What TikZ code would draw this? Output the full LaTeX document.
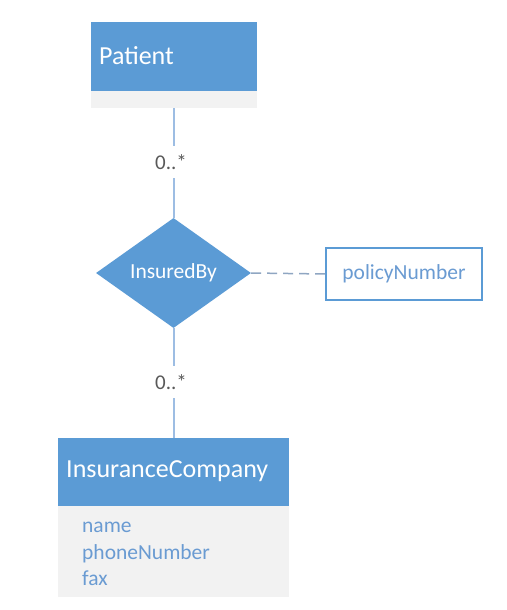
\documentclass[tikz,border=0pt]{standalone}
\usepackage{fontspec}
\setmainfont{Carlito}
\usetikzlibrary{shapes.geometric}
\definecolor{hdrblue}{HTML}{5B9BD5}
\definecolor{bodygray}{HTML}{F2F2F2}
\definecolor{linecol}{HTML}{9DBDE3}
\definecolor{dashcol}{HTML}{8FA6C2}
\definecolor{attrcol}{HTML}{6A9BD2}
\definecolor{mulcol}{HTML}{595959}
\tikzset{
  hdr/.style={rectangle, fill=hdrblue, draw=none, inner sep=0pt, anchor=north west},
  bodybox/.style={rectangle, fill=bodygray, draw=none, inner sep=0pt, anchor=north west},
  titletext/.style={anchor=west, text=white, inner sep=0pt, font=\fontsize{26}{30}\selectfont},
  attrtext/.style={anchor=north west, text=attrcol, inner sep=0pt, align=left, font=\fontsize{21.5}{26.5}\selectfont},
  conn/.style={draw=linecol, line width=2pt},
  mult/.style={fill=white, text=mulcol, inner sep=0pt, minimum width=34pt, minimum height=32pt, font=\fontsize{21}{25}\selectfont},
  relshape/.style={diamond, aspect=1.4, fill=hdrblue, draw=none, inner sep=0pt, minimum width=155pt, minimum height=110pt, text=white, font=\fontsize{21.5}{25}\selectfont},
  attrbox/.style={rectangle, draw=hdrblue, line width=1.3pt, fill=white, inner sep=0pt, text=attrcol, font=\fontsize{21.5}{25}\selectfont},
}
\begin{document}
\begin{tikzpicture}[x=1pt,y=-1pt]
\useasboundingbox[fill=white] (0,0) rectangle (506,610);
% Patient entity
\node[hdr, minimum width=166pt, minimum height=69pt] (pat) at (91,22) {};
\node[bodybox, minimum width=166pt, minimum height=17pt] (patbody) at (91,91) {};
\node[titletext] (pattitle) at (99,56) {Patient};
% relationship
\node[relshape] (rel) at (173.5,273) {InsuredBy};
% insurance company
\node[hdr, minimum width=231pt, minimum height=68pt] (ic) at (58,438) {};
\node[bodybox, minimum width=231pt, minimum height=91pt] (icbody) at (58,506) {};
\node[titletext] (ictitle) at (66,471) {InsuranceCompany};
\node[attrtext] (icattrs) at (82,522) {name\\phoneNumber\\fax};
% policy attribute
\node[attrbox, minimum width=156pt, minimum height=52pt] (pol) at (404,274) {policyNumber};
% connectors
\draw[conn] (patbody.south -| rel.north) -- (rel.north);
\draw[conn] (rel.south) -- (ic.north -| rel.south);
\draw[draw=dashcol, line width=1.5pt, dashed, dash pattern=on 10pt off 6pt] (rel.east) -- (pol.west);
% multiplicities
\node[mult] (m1) at (171,162) {0..*};
\node[mult] (m2) at (171,382) {0..*};
\end{tikzpicture}
\end{document}
